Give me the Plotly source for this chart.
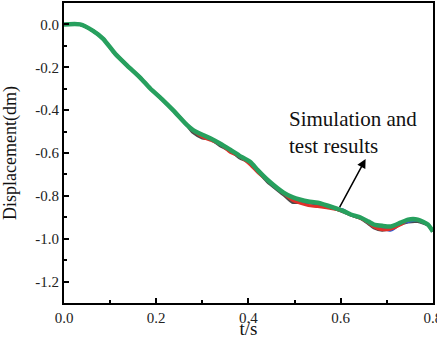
import plotly.graph_objects as go

# time axis (s)
t = [0, 0.035, 0.063, 0.085, 0.111, 0.137, 0.165, 0.187, 0.215, 0.237, 0.267, 0.28,
     0.3, 0.317, 0.34, 0.361, 0.38, 0.404, 0.42, 0.441, 0.476, 0.495, 0.513, 0.53,
     0.55, 0.585, 0.605, 0.622, 0.643, 0.66, 0.672, 0.69, 0.709, 0.73, 0.746, 0.767,
     0.789, 0.80]

simulation = [0, 0, -0.030, -0.067, -0.137, -0.192, -0.248, -0.299, -0.354, -0.401, -0.470, -0.493,
              -0.515, -0.531, -0.558, -0.586, -0.612, -0.642, -0.680, -0.725, -0.785, -0.806, -0.818, -0.826,
              -0.832, -0.855, -0.870, -0.887, -0.901, -0.920, -0.934, -0.940, -0.943, -0.925, -0.911, -0.911,
              -0.934, -0.966]

test_red = [0, 0, -0.030, -0.067, -0.137, -0.192, -0.248, -0.299, -0.354, -0.401, -0.470, -0.495,
            -0.525, -0.540, -0.560, -0.598, -0.615, -0.655, -0.690, -0.728, -0.788, -0.820, -0.835, -0.845,
            -0.850, -0.862, -0.872, -0.889, -0.905, -0.925, -0.945, -0.958, -0.955, -0.935, -0.913, -0.912,
            -0.936, -0.966]

test_blue = [0, 0, -0.030, -0.067, -0.137, -0.192, -0.248, -0.299, -0.354, -0.401, -0.470, -0.493,
             -0.518, -0.533, -0.560, -0.588, -0.614, -0.645, -0.682, -0.727, -0.787, -0.812, -0.822, -0.830,
             -0.835, -0.857, -0.865, -0.888, -0.903, -0.924, -0.940, -0.952, -0.960, -0.930, -0.920, -0.913,
             -0.935, -0.966]

test_gray = [0, 0, -0.030, -0.067, -0.137, -0.192, -0.248, -0.299, -0.354, -0.401, -0.472, -0.505,
             -0.530, -0.535, -0.568, -0.590, -0.622, -0.646, -0.684, -0.735, -0.795, -0.830, -0.830, -0.832,
             -0.840, -0.858, -0.875, -0.890, -0.905, -0.930, -0.950, -0.960, -0.950, -0.932, -0.922, -0.920,
             -0.936, -0.966]

x_ticks = [0.0, 0.2, 0.4, 0.6, 0.8]
y_ticks = [0.0, -0.2, -0.4, -0.6, -0.8, -1.0, -1.2]

FONT = "Liberation Serif"

fig = go.Figure()
for vals, col, w in [(test_gray, "#4a4a4a", 3), (test_blue, "#2f5bd6", 3),
                     (test_red, "#e0302a", 3), (simulation, "#27a05e", 4.5)]:
    fig.add_trace(go.Scatter(x=t, y=vals, mode="lines",
                             line=dict(color=col, width=w, shape="spline", smoothing=0.6),
                             showlegend=False, hoverinfo="skip", cliponaxis=True))

axis_common = dict(showline=True, linecolor="black", linewidth=2, mirror=True,
                   ticks="inside", ticklen=5, tickwidth=1.5, tickcolor="black",
                   showgrid=False, zeroline=False, ticklabeloverflow="allow", automargin=False,
                   tickfont=dict(family=FONT, size=15, color="#222"))

fig.update_xaxes(range=[0, 0.8001], tickvals=x_ticks, ticktext=[f"{v:.1f}" for v in x_ticks],
                 minor=dict(ticks="inside", ticklen=3, tickwidth=1.5, tickcolor="black", dtick=0.1, tick0=0),
                 title=dict(text="t/s", font=dict(family=FONT, size=19, color="#111"), standoff=0),
                 **axis_common)
fig.update_yaxes(range=[-1.3, 0.1], tickvals=y_ticks, ticktext=[f"{v:.1f}" for v in y_ticks],
                 minor=dict(ticks="inside", ticklen=3, tickwidth=1.5, tickcolor="black", dtick=0.1, tick0=0),
                 title=dict(text="Displacement(dm)", font=dict(family=FONT, size=18, color="#111"), standoff=14),
                 ticklabelstandoff=0,
                 **axis_common)

fig.add_annotation(x=0.654, y=-0.628, ax=0.596, ay=-0.860, xref="x", yref="y", axref="x", ayref="y",
                   showarrow=True, arrowhead=2, arrowsize=1.2, arrowwidth=1.5, arrowcolor="black",
                   text="")
fig.add_annotation(x=0.483, y=-0.503, xref="x", yref="y", showarrow=False,
                   xanchor="left", yanchor="middle", align="left",
                   text="Simulation and<br>test results",
                   font=dict(family=FONT, size=21, color="#111"))

fig.update_layout(width=437, height=339, margin=dict(l=64, r=4, t=3, b=36, autoexpand=False),
                  paper_bgcolor="white", plot_bgcolor="white")

fig.write_html("out.html")
